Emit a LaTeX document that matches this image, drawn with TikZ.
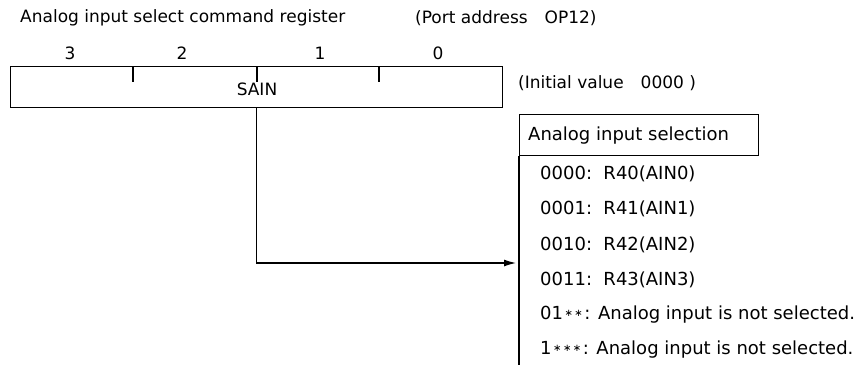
\documentclass[tikz,border=0pt]{standalone}
\usepackage{fontspec}
\setmainfont{DejaVu Sans}
\usetikzlibrary{arrows.meta}
\newcommand{\dotmark}{\kern1.5pt\raisebox{3pt}{\fontsize{10}{10}\selectfont ∗}}
\begin{document}
\begin{tikzpicture}[x=1pt,y=-1pt,
  every node/.style={font=\fontsize{17}{20}\selectfont, inner sep=0pt},
  big/.style={font=\fontsize{18}{21}\selectfont},
  lbl/.style={anchor=west},
  frame/.style={draw, line width=1.2pt},
  wire/.style={line width=1.2pt},
  tip/.style={-{Latex[length=12pt,width=7pt]}}]
\useasboundingbox (0,0) rectangle (866,365);
% title line
\node[lbl] (title) at (20,18) {Analog input select command register};
\node[lbl] (port) at (415,18) {(Port address\quad OP12)};
% bit numbers
\node (b3) at (70,53) {3};
\node (b2) at (182,53) {2};
\node (b1) at (320,53) {1};
\node (b0) at (438,53) {0};
% register
\node[frame, anchor=north west, minimum width=492pt, minimum height=41pt] (reg) at (10,66) {};
\node (sain) at (257,89) {SAIN};
\foreach \x in {123,247,369}
  \draw[wire] ([xshift=\x pt]reg.north west) -- ++(0,16);
\node[lbl] (init) at (518,83) {(Initial value\quad 0000\ )};
% selection list
\node[frame, anchor=north west, minimum width=239pt, minimum height=41pt] (hdr) at (519,114) {};
\node[lbl, big] (hdrtxt) at (528,136) {Analog input selection};
\coordinate (lend) at (519,365);
\draw[wire] (hdr.south west) -- (lend);
\node[lbl, big] (r0) at (540,174) {0000:\ \ R40(AIN0)};
\node[lbl, big] (r1) at (540,209) {0001:\ \ R41(AIN1)};
\node[lbl, big] (r2) at (540,245) {0010:\ \ R42(AIN2)};
\node[lbl, big] (r3) at (540,280) {0011:\ \ R43(AIN3)};
\node[lbl, big] (r4) at (540,315) {01\dotmark\dotmark\kern1.5pt: Analog input is not selected.};
\node[lbl, big] (r5) at (540,350) {1\dotmark\dotmark\dotmark\kern1.5pt: Analog input is not selected.};
% connector
\coordinate (arr) at (516,263);
\draw[wire, tip] (reg.south) |- (arr);
\end{tikzpicture}
\end{document}
